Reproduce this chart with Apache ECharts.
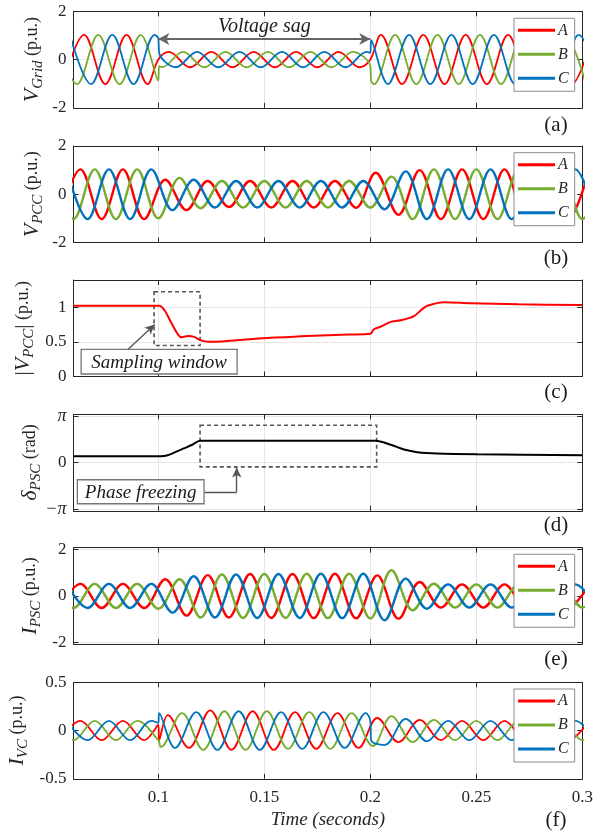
<!DOCTYPE html>
<html>
<head>
<meta charset="utf-8">
<script src="https://cdn.jsdelivr.net/npm/echarts@6.0.0/dist/echarts.min.js"></script>
<style>
html,body{margin:0;padding:0;background:#ffffff;}
#chart{width:608px;height:834px;}
</style>
</head>
<body>
<div id="chart"></div>
<script>
// ================= DATA =================
// (a) grid voltage, extrema / jump points [time s, p.u.]
const gridA = [[0.055,-1.02],[0.065,1.02],[0.075,-1.02],[0.085,1.02],[0.095,-1.02],[0.1,0],[0.105,0.32],[0.115,-0.32],[0.125,0.32],[0.135,-0.32],[0.145,0.32],[0.155,-0.32],[0.165,0.32],[0.175,-0.32],[0.185,0.32],[0.195,-0.32],[0.2,0],[0.205,1.02],[0.215,-1.02],[0.225,1.02],[0.235,-1.02],[0.245,1.02],[0.255,-1.02],[0.265,1.02],[0.275,-1.02],[0.285,1.02],[0.295,-1.02],[0.305,1.02]];
const gridB = [[0.0517,1.02],[0.0617,-1.02],[0.0717,1.02],[0.0817,-1.02],[0.0917,1.02],[0.1,-0.87],[0.1004,-0.27],[0.1017,-0.32],[0.1117,0.32],[0.1217,-0.32],[0.1317,0.32],[0.1417,-0.32],[0.1517,0.32],[0.1617,-0.32],[0.1717,0.32],[0.1817,-0.32],[0.1917,0.32],[0.2,-0.27],[0.2004,-0.87],[0.2017,-1.02],[0.2117,1.02],[0.2217,-1.02],[0.2317,1.02],[0.2417,-1.02],[0.2517,1.02],[0.2617,-1.02],[0.2717,1.02],[0.2817,-1.02],[0.2917,1.02],[0.3017,-1.02]];
const gridC = [[0.0583,1.02],[0.0683,-1.02],[0.0783,1.02],[0.0883,-1.02],[0.0983,1.02],[0.1,0.88],[0.1004,0.28],[0.1083,-0.32],[0.1183,0.32],[0.1283,-0.32],[0.1383,0.32],[0.1483,-0.32],[0.1583,0.32],[0.1683,-0.32],[0.1783,0.32],[0.1883,-0.32],[0.1983,0.32],[0.2,0.28],[0.2004,0.8],[0.2083,-1.02],[0.2183,1.02],[0.2283,-1.02],[0.2383,1.02],[0.2483,-1.02],[0.2583,1.02],[0.2683,-1.02],[0.2783,1.02],[0.2883,-1.02],[0.2983,1.02],[0.3083,-1.02]];
// (b) PCC voltage
const pccA = [[0.0533,-1.03],[0.0633,1.03],[0.0733,-1.03],[0.0833,1.03],[0.0933,-1.03],[0.1033,0.6],[0.1133,-0.66],[0.1233,0.55],[0.1333,-0.53],[0.1433,0.55],[0.1533,-0.55],[0.1633,0.55],[0.1733,-0.55],[0.1833,0.55],[0.1933,-0.56],[0.2025,0.89],[0.2133,-0.85],[0.2233,1.0],[0.2333,-1.03],[0.2433,1.03],[0.2533,-1.03],[0.2633,1.03],[0.2733,-1.03],[0.2833,1.03],[0.2933,-1.03],[0.3033,1.03]];
const pccB = [[0.05,1.03],[0.06,-1.03],[0.07,1.03],[0.08,-1.03],[0.09,1.03],[0.1,-1.0],[0.11,0.68],[0.12,-0.58],[0.13,0.55],[0.14,-0.55],[0.15,0.55],[0.16,-0.55],[0.17,0.55],[0.18,-0.55],[0.19,0.55],[0.2,-0.55],[0.21,0.73],[0.22,-1.03],[0.23,1.03],[0.24,-1.03],[0.25,1.03],[0.26,-1.03],[0.27,1.03],[0.28,-1.03],[0.29,1.03],[0.3,-1.03],[0.31,1.03]];
const pccC = [[0.0567,1.03],[0.0667,-1.03],[0.0767,1.03],[0.0867,-1.03],[0.0967,1.03],[0.1067,-0.66],[0.1167,0.6],[0.1267,-0.55],[0.1367,0.55],[0.1467,-0.55],[0.1567,0.55],[0.1667,-0.55],[0.1767,0.55],[0.1867,-0.55],[0.1967,0.55],[0.2067,-0.62],[0.2167,0.95],[0.2267,-1.03],[0.2367,1.03],[0.2467,-1.03],[0.2567,1.03],[0.2667,-1.03],[0.2767,1.03],[0.2867,-1.03],[0.2967,1.03],[0.3067,-1.03]];
// (c) |V_PCC|
const magPcc = [[0.06,1.02],[0.1005,1.02],[0.103,0.95],[0.106,0.78],[0.1094,0.6],[0.111,0.567],[0.1142,0.585],[0.117,0.57],[0.12,0.52],[0.124,0.5],[0.13,0.505],[0.14,0.53],[0.155,0.56],[0.17,0.585],[0.19,0.605],[0.2,0.615],[0.2017,0.68],[0.205,0.72],[0.21,0.79],[0.215,0.815],[0.2206,0.87],[0.2245,0.97],[0.2269,1.02],[0.2348,1.07],[0.2474,1.055],[0.27,1.04],[0.3,1.03]];
// (d) delta_PSC in rad
const deltaPsc = [[0.06,0.43],[0.1013,0.43],[0.104,0.48],[0.108,0.7],[0.112,0.95],[0.116,1.2],[0.1197,1.47],[0.2025,1.47],[0.2096,1.2],[0.2159,0.88],[0.2222,0.7],[0.2316,0.61],[0.2505,0.56],[0.3,0.5]];
// (e) PSC current
const pscA = [[0.0533,-0.52],[0.0633,0.52],[0.0733,-0.52],[0.0833,0.52],[0.0933,-0.52],[0.1033,0.72],[0.1133,-0.85],[0.1233,0.9],[0.1333,-0.93],[0.1433,0.95],[0.1533,-0.95],[0.1633,0.95],[0.1733,-0.96],[0.1833,0.96],[0.1933,-0.97],[0.2033,0.89],[0.2133,-0.98],[0.2233,0.6],[0.2333,-0.5],[0.2433,0.5],[0.2533,-0.5],[0.2633,0.5],[0.2733,-0.5],[0.2833,0.5],[0.2933,-0.5],[0.3033,0.5]];
const pscB = [[0.05,0.52],[0.06,-0.52],[0.07,0.52],[0.08,-0.52],[0.09,0.52],[0.1,-0.55],[0.11,0.72],[0.12,-0.93],[0.13,0.93],[0.14,-0.95],[0.15,0.95],[0.16,-0.95],[0.17,0.96],[0.18,-0.96],[0.19,0.96],[0.2,-0.97],[0.21,1.11],[0.22,-0.62],[0.23,0.53],[0.24,-0.5],[0.25,0.5],[0.26,-0.5],[0.27,0.5],[0.28,-0.5],[0.29,0.5],[0.3,-0.5],[0.31,0.5]];
const pscC = [[0.0567,0.52],[0.0667,-0.52],[0.0767,0.52],[0.0867,-0.52],[0.0967,0.52],[0.1067,-0.72],[0.1167,0.85],[0.1267,-0.93],[0.1367,0.93],[0.1467,-0.95],[0.1567,0.95],[0.1667,-0.95],[0.1767,0.96],[0.1867,-0.96],[0.1967,0.96],[0.2067,-1.05],[0.2167,0.75],[0.2267,-0.55],[0.2367,0.5],[0.2467,-0.5],[0.2567,0.5],[0.2667,-0.5],[0.2767,0.5],[0.2867,-0.5],[0.2967,0.5],[0.3067,-0.5]];
// (f) VC current
const vcA = [[0.0533,-0.1],[0.0633,0.1],[0.0733,-0.1],[0.0833,0.1],[0.0933,-0.1],[0.1,0.06],[0.1004,-0.1],[0.1045,0.16],[0.1145,-0.18],[0.1245,0.21],[0.1345,-0.2],[0.1445,0.2],[0.1545,-0.2],[0.1645,0.19],[0.1745,-0.19],[0.1845,0.18],[0.1945,-0.18],[0.2033,0.13],[0.2133,-0.12],[0.2233,0.11],[0.2333,-0.1],[0.2433,0.1],[0.2533,-0.1],[0.2633,0.1],[0.2733,-0.1],[0.2833,0.1],[0.2933,-0.1],[0.3033,0.1]];
const vcB = [[0.05,0.1],[0.06,-0.1],[0.07,0.1],[0.08,-0.1],[0.09,0.1],[0.1,-0.1],[0.1012,-0.17],[0.1112,0.18],[0.1212,-0.2],[0.1312,0.2],[0.1412,-0.2],[0.1512,0.2],[0.1612,-0.19],[0.1712,0.19],[0.1812,-0.19],[0.1912,0.18],[0.2012,-0.16],[0.21,0.15],[0.22,-0.12],[0.23,0.11],[0.24,-0.1],[0.25,0.1],[0.26,-0.1],[0.27,0.1],[0.28,-0.1],[0.29,0.1],[0.3,-0.1],[0.31,0.1]];
const vcC = [[0.0567,0.1],[0.0667,-0.1],[0.0767,0.1],[0.0867,-0.1],[0.0967,0.1],[0.1,0.08],[0.1004,0.18],[0.1079,-0.18],[0.1179,0.19],[0.1279,-0.2],[0.1379,0.2],[0.1479,-0.2],[0.1579,0.19],[0.1679,-0.19],[0.1779,0.19],[0.1879,-0.18],[0.1979,0.18],[0.2,0.1],[0.2004,-0.1],[0.2067,-0.15],[0.2167,0.12],[0.2267,-0.11],[0.2367,0.1],[0.2467,-0.1],[0.2567,0.1],[0.2667,-0.1],[0.2767,0.1],[0.2867,-0.1],[0.2967,0.1],[0.3067,-0.1]];

const phaseNames = ['A','B','C'];
const panelTags = ['(a)','(b)','(c)','(d)','(e)','(f)'];
// annotations (data coordinates)
const sagArrow = [[0.1,0.85],[0.2,0.85]];
const sampWindow = [[0.098,1.22],[0.1197,0.446]];
const sampPointer = [[0.0858,0.394],[0.0983,0.75]];
const freezeWindow = [[0.1197,2.51],[0.203,-0.29]];          // rad
const freezePointer = [[0.1216,-1.97],[0.137,-1.97],[0.137,-0.33]]; // rad

// ================= CHART =================
const FONT = "'Liberation Serif','Times New Roman',serif";
const TXT = '#262626';
const AX = '#262626';
const GC = '#e6e6e6';
const COL = ['#ff0000','#77ac30','#0072bd'];
const tops = [11.3,146,280,414.3,547.7,682.3];
const GL = 73.5, GW = 508.8, GH = 96.5;

const rich = {
  v:{fontFamily:FONT,fontStyle:'italic',fontSize:22,color:TXT,lineHeight:26,verticalAlign:'middle'},
  s:{fontFamily:FONT,fontStyle:'italic',fontSize:15,color:TXT,lineHeight:16,verticalAlign:'bottom'},
  r:{fontFamily:FONT,fontSize:18,color:TXT,lineHeight:26,verticalAlign:'middle'},
  b:{fontFamily:FONT,fontSize:21,color:TXT,lineHeight:26,verticalAlign:'middle'}
};
const piFmt = v => Math.abs(v-1)<1e-6 ? '{p|π}' : (Math.abs(v+1)<1e-6 ? '{p|−π}' : (Math.abs(v)<1e-6?'0':''));
const yCfg = [
  {min:-2,max:2,interval:2,name:'{v|V}{s|Grid}{r| (p.u.)}',gap:28},
  {min:-2,max:2,interval:2,name:'{v|V}{s|PCC}{r| (p.u.)}',gap:28},
  {min:0,max:1.39,interval:0.5,name:'{b||}{v|V}{s|PCC}{b||}{r| (p.u.)}',gap:37,hideMax:true},
  {min:-1.035,max:1.035,splitNumber:2,name:'{v|δ}{s|PSC}{r| (rad)}',gap:30,hideMin:true,hideMax:true,fmt:piFmt},
  {min:-2.085,max:2.085,splitNumber:2,name:'{v|I}{s|PSC}{r| (p.u.)}',gap:30,hideMin:true,hideMax:true},
  {min:-0.5,max:0.5,interval:0.5,name:'{v|I}{s|VC}{r| (p.u.)}',gap:43}
];

const grid = tops.map(t => ({left:GL,top:t,width:GW,height:GH,outerBoundsMode:'none'}));
const xAxis = [], yAxis = [];
tops.forEach((t,i) => {
  xAxis.push({type:'value',gridIndex:i,min:0.06,max:0.3,position:'bottom',
    axisLine:{show:true,onZero:false,lineStyle:{color:AX,width:1}},
    axisTick:{show:true,inside:true,length:5,lineStyle:{color:AX}},
    axisLabel:{show:i===5,showMinLabel:false,fontFamily:FONT,fontSize:17,color:TXT,margin:10},
    splitLine:{show:true,lineStyle:{color:GC,width:1}},
    name:i===5?'Time (seconds)':'',nameLocation:'middle',nameGap:32,nameMoveOverlap:false,
    nameTextStyle:{fontFamily:FONT,fontStyle:'italic',fontSize:19,color:TXT}});
  xAxis.push({type:'value',gridIndex:i,min:0.06,max:0.3,position:'top',
    axisLine:{show:true,onZero:false,lineStyle:{color:AX,width:1}},
    axisTick:{show:true,inside:true,length:5,lineStyle:{color:AX}},
    axisLabel:{show:false},splitLine:{show:false}});
  const c = yCfg[i];
  yAxis.push({type:'value',gridIndex:i,min:c.min,max:c.max,interval:c.interval,splitNumber:c.splitNumber,position:'left',
    axisLine:{show:true,onZero:false,lineStyle:{color:AX,width:1}},
    axisTick:{show:true,inside:true,length:5,lineStyle:{color:AX}},
    axisLabel:{fontFamily:FONT,fontSize:17,color:TXT,margin:7,
      showMinLabel:c.hideMin?false:null,showMaxLabel:c.hideMax?false:null,
      formatter:c.fmt,rich:{p:{fontFamily:FONT,fontStyle:'italic',fontSize:18,color:TXT}}},
    splitLine:{show:true,lineStyle:{color:GC,width:1}},
    name:c.name,nameLocation:'middle',nameGap:c.gap,nameRotate:90,nameMoveOverlap:false,
    nameTextStyle:{rich:rich}});
  yAxis.push({type:'value',gridIndex:i,min:c.min,max:c.max,interval:c.interval,splitNumber:c.splitNumber,position:'right',
    axisLine:{show:true,onZero:false,lineStyle:{color:AX,width:1}},
    axisTick:{show:true,inside:true,length:5,lineStyle:{color:AX}},
    axisLabel:{show:false},splitLine:{show:false}});
});

const series = [];
const wavePanels = [
  {gi:0,sets:[gridA,gridB,gridC],w:1.8},
  {gi:1,sets:[pccA,pccB,pccC],w:2.4},
  {gi:4,sets:[pscA,pscB,pscC],w:2.4},
  {gi:5,sets:[vcA,vcB,vcC],w:1.8}
];
wavePanels.forEach(p => {
  p.sets.forEach((d,k) => {
    series.push({type:'line',name:phaseNames[k],xAxisIndex:2*p.gi,yAxisIndex:2*p.gi,data:d,
      showSymbol:false,symbol:'none',smooth:0.36,clip:true,color:COL[k],
      lineStyle:{width:p.w,color:COL[k]},z:2});
  });
});
// arrow of (a)
series[0].markLine = {silent:true,symbol:['arrow','arrow'],symbolSize:[9,11],
  lineStyle:{color:'#666',width:2,type:'solid'},
  label:{show:true,position:'insideMiddleTop',distance:2,formatter:'Voltage sag',
    fontFamily:FONT,fontStyle:'italic',fontSize:20,color:'#222'},
  data:[[{coord:sagArrow[0]},{coord:sagArrow[1]}]]};
// (c)
series.push({type:'line',name:'mag',xAxisIndex:4,yAxisIndex:4,data:magPcc,showSymbol:false,symbol:'none',
  smooth:0.3,color:'#ff0000',lineStyle:{width:2,color:'#ff0000'},z:2,
  markArea:{silent:true,itemStyle:{color:'rgba(0,0,0,0)',borderColor:'#555',borderWidth:1.6,borderType:[4,3]},
    data:[[{coord:sampWindow[0]},{coord:sampWindow[1]}]]},
  markLine:{silent:true,symbol:['none','arrow'],symbolSize:[7,10],label:{show:false},
    lineStyle:{color:'#555',width:1.4,type:'solid'},
    data:[[{coord:sampPointer[0]},{coord:sampPointer[1]}]]}});
// (d)
const toPi = p => [p[0], p[1]/Math.PI];
series.push({type:'line',name:'delta',xAxisIndex:6,yAxisIndex:6,data:deltaPsc.map(toPi),showSymbol:false,symbol:'none',
  smooth:0.3,color:'#000',lineStyle:{width:2,color:'#000'},z:2,
  markArea:{silent:true,itemStyle:{color:'rgba(0,0,0,0)',borderColor:'#555',borderWidth:1.6,borderType:[4,3]},
    data:[[{coord:toPi(freezeWindow[0])},{coord:toPi(freezeWindow[1])}]]},
  markLine:{silent:true,label:{show:false},lineStyle:{color:'#555',width:1.4,type:'solid'},symbolSize:[7,10],
    data:[[{coord:toPi(freezePointer[0]),symbol:'none'},{coord:toPi(freezePointer[1]),symbol:'none'}],
          [{coord:toPi(freezePointer[1]),symbol:'none'},{coord:toPi(freezePointer[2]),symbol:'arrow'}]]}});

const legTops = [18.3,152.7,554.3,689];
const legend = legTops.map(t => ({data:phaseNames,orient:'vertical',left:514,top:t,z:20,
  backgroundColor:'#fff',borderColor:'#8c8c8c',borderWidth:1,borderRadius:0,padding:[4,6,5,4],itemGap:8,
  itemWidth:37,itemHeight:3,icon:'rect',selectedMode:false,
  textStyle:{fontFamily:FONT,fontStyle:'italic',fontSize:16,lineHeight:16,color:TXT,padding:[0,0,0,-2]}}));

const chart = echarts.init(document.getElementById('chart'),null,{renderer:'canvas'});
chart.setOption({animation:false,backgroundColor:'#fff',grid,xAxis,yAxis,series,legend});

// annotation boxes and panel tags
const px = (gi,x,y) => chart.convertToPixel({xAxisIndex:2*gi,yAxisIndex:2*gi},[x,y]);
const tagY = [125,258,392,525,659,820];
const gEls = [];
panelTags.forEach((t,i) => gEls.push({type:'text',z:100,style:{text:t,x:556,y:tagY[i],fontFamily:FONT,fontSize:21,fill:'#1a1a1a',align:'center',verticalAlign:'middle'}}));
function labelBox(c,w,h,text){
  gEls.push({type:'rect',z:100,shape:{x:c[0]-w/2,y:c[1]-h/2,width:w,height:h},style:{fill:'#fff',stroke:'#777',lineWidth:1.3}});
  gEls.push({type:'text',z:101,style:{text:text,x:c[0],y:c[1]+1,fontFamily:FONT,fontStyle:'italic',fontSize:19,fill:'#1a1a1a',align:'center',verticalAlign:'middle'}});
}
labelBox(px(2,0.1004,0.214),156,24.7,'Sampling window');
labelBox(px(3,0.0917,-0.626),126.7,24,'Phase freezing');
chart.setOption({graphic:{elements:gEls}});
</script>
</body>
</html>
